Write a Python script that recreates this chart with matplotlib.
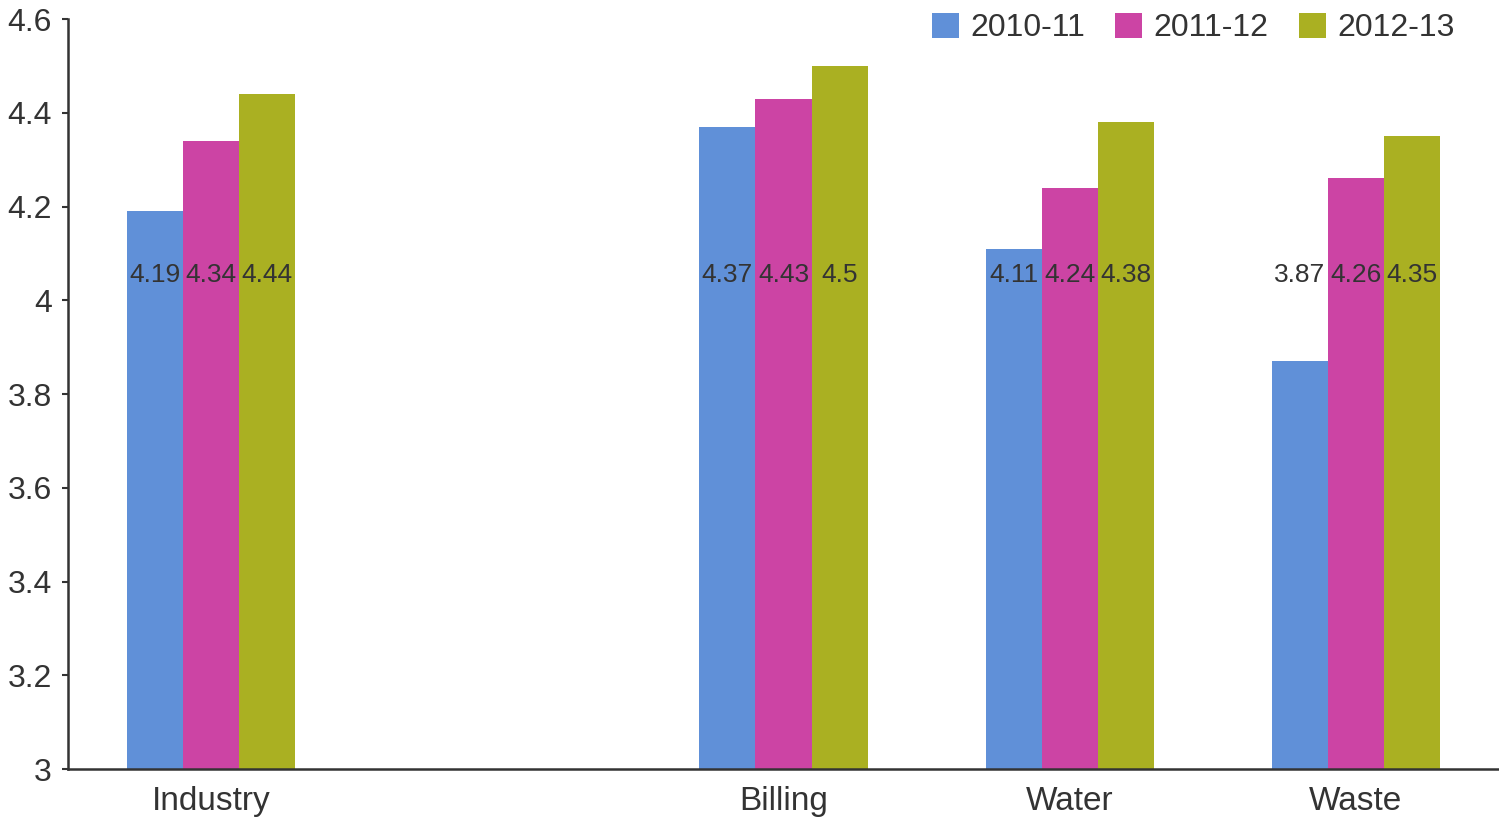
import numpy as np
import matplotlib
matplotlib.use("Agg")
import matplotlib.pyplot as plt

plt.rcParams['font.family'] = ['Liberation Sans', 'DejaVu Sans']

categories = ["Industry", "", "Billing", "Water", "Waste"]
series_names = ["2010-11", "2011-12", "2012-13"]
v2010_11 = [4.19, np.nan, 4.37, 4.11, 3.87]
v2011_12 = [4.34, np.nan, 4.43, 4.24, 4.26]
v2012_13 = [4.44, np.nan, 4.50, 4.38, 4.35]
yticks = [3, 3.2, 3.4, 3.6, 3.8, 4, 4.2, 4.4, 4.6]
ytick_labels = ["3", "3.2", "3.4", "3.6", "3.8", "4", "4.2", "4.4", "4.6"]

colors = ["#6090D8", "#CC44A4", "#AAB022"]
text_color = "#333333"

fig = plt.figure(figsize=(14.99, 8.18), dpi=100)
ax = fig.add_axes([68/1499, 49/818, (1499-68)/1499, 750/818])

x = np.arange(len(categories))
w = 0.196
label_y = 4.054
all_series = [v2010_11, v2011_12, v2012_13]
for i, (vals, name, c) in enumerate(zip(all_series, series_names, colors)):
    pos = x + (i - 1) * w
    vals_arr = np.array(vals, dtype=float)
    ax.bar(pos, vals_arr - 3, bottom=3, width=w, color=c, label=name,
           linewidth=0)
    for px, v in zip(pos, vals_arr):
        if not np.isnan(v):
            ax.text(px, label_y, f"{v:g}", ha="center", va="center",
                    fontsize=19, color=text_color)

ax.set_xlim(-0.5, 4.5)
ax.set_ylim(3, 4.6)
ax.set_yticks(yticks)
ax.set_yticklabels(ytick_labels)
ax.set_xticks(x)
ax.set_xticklabels(categories)

for s in ["top", "right"]:
    ax.spines[s].set_visible(False)
for s in ["left", "bottom"]:
    ax.spines[s].set_linewidth(1.8)
    ax.spines[s].set_color(text_color)

ax.tick_params(axis="y", direction="out", length=4.5, width=1.5,
               colors=text_color, labelsize=23, pad=7)
ax.tick_params(axis="x", length=0, labelsize=24, colors=text_color, pad=12)

leg = ax.legend(loc="center right", bbox_to_anchor=(0.969, 0.988), ncol=3,
                frameon=False, fontsize=23, handlelength=0.85, handleheight=0.85,
                handletextpad=0.35, columnspacing=0.95, borderpad=0,
                borderaxespad=0)
for t in leg.get_texts():
    t.set_color(text_color)

fig.savefig("out.png", dpi=100)
